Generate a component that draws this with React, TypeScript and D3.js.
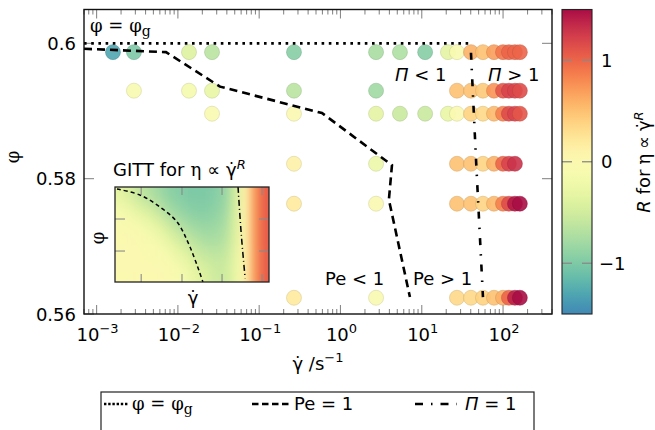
import React from 'react';
import * as d3 from 'd3';

// shear rates (1/s) of the measurement columns
const shearRates = [1.59e-3, 2.88e-3, 0.0137, 0.0263, 0.268, 2.74, 5.39, 11.0, 21.0, 27.1, 40.3, 56.6, 77.3, 99.8, 118, 140, 161];
// volume fractions of the measurement rows
const volumeFractions = [0.5987, 0.593, 0.5896, 0.5822, 0.5763, 0.5624];

// flow exponent R per row (null = no point)
const rPhi5987 = [-1.3, -1.0, -0.4, -0.65, -0.95, -0.75, -0.72, -0.95, -0.35, -0.05, 0.6, 0.5, 0.7, 0.9, 1.0, 1.0, 1.0];
const rPhi5930 = [null, -0.1, -0.15, -0.3, -0.65, -0.8, null, null, null, 0.5, 0.5, 0.45, 0.75, 1.1, 1.2, 1.2, 1.15];
const rPhi5896 = [null, null, null, -0.05, 0.0, -0.35, -0.55, -0.55, -0.3, 0.0, 0.4, 0.35, 0.55, 0.85, 1.15, 1.2, 1.1];
const rPhi5822 = [null, null, null, null, 0.12, -0.25, null, null, null, 0.5, 0.5, 0.38, 0.6, 1.0, 1.2, 1.3, null];
const rPhi5763 = [null, null, null, null, 0.2, 0.0, null, null, null, 0.5, 0.5, 0.38, 0.55, 0.85, 1.15, 1.45, 1.5];
const rPhi5624 = [null, null, null, null, 0.2, -0.05, null, null, null, 0.35, 0.35, 0.4, 0.5, 0.6, 1.0, 1.4, 1.5];
const exponentRows = [rPhi5987, rPhi5930, rPhi5896, rPhi5822, rPhi5763, rPhi5624];

// boundary lines [shear rate, phi]
const glassLine: [number, number][] = [[7e-4, 0.6], [39, 0.6]];
const pecletLine: [number, number][] = [[7e-4, 0.5992], [7.14e-3, 0.5987], [0.033, 0.5936], [0.592, 0.5897], [4.3, 0.582], [3.94, 0.5769], [7.15, 0.5625]];
const piLine: [number, number][] = [[40.3, 0.5986], [46.5, 0.5828], [56.6, 0.5625]];

// GITT inset: R on a 16 x 6 grid (top row first), plus its boundary curves in unit coords
const insetTop = [-0.35, -0.45, -0.6, -0.7, -0.8, -0.9, -0.95, -1.0, -1.0, -1.0, -0.95, -0.85, -0.5, 0.1, 0.75, 1.05];
const insetRow2 = [-0.12, -0.22, -0.35, -0.45, -0.6, -0.75, -0.85, -0.92, -0.95, -0.95, -0.9, -0.8, -0.45, 0.1, 0.75, 1.05];
const insetRow3 = [-0.02, -0.05, -0.1, -0.2, -0.32, -0.5, -0.65, -0.75, -0.82, -0.85, -0.82, -0.72, -0.42, 0.1, 0.75, 1.05];
const insetRow4 = [0, 0, -0.03, -0.08, -0.15, -0.27, -0.42, -0.55, -0.65, -0.72, -0.72, -0.65, -0.38, 0.1, 0.75, 1.05];
const insetRow5 = [0, 0, 0, -0.02, -0.05, -0.1, -0.22, -0.33, -0.48, -0.55, -0.6, -0.55, -0.32, 0.1, 0.75, 1.05];
const insetBottom = [0, 0, 0, 0, 0, -0.02, -0.08, -0.2, -0.32, -0.42, -0.52, -0.52, -0.3, 0.1, 0.75, 1.05];
const insetGrid = [insetTop, insetRow2, insetRow3, insetRow4, insetRow5, insetBottom];
const insetPeclet: [number, number][] = [[0.013, 0.979], [0.162, 0.916], [0.292, 0.789], [0.403, 0.632], [0.487, 0.368], [0.571, 0.0]];
const insetPi: [number, number][] = [[0.799, 1.0], [0.82, 0.5], [0.845, 0.04]];
const insetTicksX = [0.17, 0.435, 0.695, 0.955];
const insetTicksY = [0.326, 0.663];

const yTicks = [0.56, 0.58, 0.6];
const xDecades = [-3, -2, -1, 0, 1, 2];
const cbTicks = [-1, 0, 1];

const SANS = 'DejaVu Sans';
const SERIF = 'DejaVu Serif';
const GD = '\u03B3\u0307';

const tCol = d3.scaleLinear().domain([-1.5, 0, 1.5]).range([0.9, 0.5, 0.02]).clamp(true);
const colorOf = (r: number) => d3.interpolateSpectral(tCol(r));

export default function App() {
  const L = 84, R = 552, T = 9.5, B = 314;
  const x = d3.scaleLog().domain([7e-4, 4e2]).range([L, R]);
  const y = d3.scaleLinear().domain([0.56, 0.605]).range([B, T]);
  const cbY = d3.scaleLinear().domain([-1.5, 1.5]).range([B, T]);
  const cbL = 562, cbW = 30;

  const line = d3.line<[number, number]>().x(d => x(d[0])).y(d => y(d[1]));

  const minor: { v: number; major: boolean }[] = [];
  for (let k = -4; k <= 2; k++) {
    for (let m = 1; m <= 9; m++) {
      const v = m * Math.pow(10, k);
      if (v >= 7e-4 && v <= 4e2) minor.push({ v, major: m === 1 });
    }
  }

  const pts: { gx: number; phi: number; r: number }[] = [];
  exponentRows.forEach((row, i) => {
    row.forEach((r, j) => {
      if (r !== null) pts.push({ gx: shearRates[j], phi: volumeFractions[i], r: r as number });
    });
  });

  // inset
  const iL = 115, iR = 269, iT = 187, iB = 282;
  const ix = d3.scaleLinear().domain([0, 1]).range([iL, iR]);
  const iy = d3.scaleLinear().domain([0, 1]).range([iB, iT]);
  const nc = insetTop.length, nr = insetGrid.length;
  const colBand = d3.scaleBand<number>().domain(d3.range(nc)).range([iL, iR]);
  const rowBand = d3.scaleBand<number>().domain(d3.range(nr)).range([iT, iB]);
  const iline = d3.line<[number, number]>().x(d => ix(d[0])).y(d => iy(d[1])).curve(d3.curveCatmullRom);

  const gradStops = d3.range(0, 31).map(i => -1.5 + i * 0.1);
  const tickGray = '#8a8a8a';

  return (
    <svg width={655} height={430} style={{ position: 'absolute', left: 0, top: 0 }} fontFamily={SANS} fontSize={18}>
      <defs>
        <linearGradient id="cb" x1="0" y1="1" x2="0" y2="0">
          {gradStops.map((r, i) => (
            <stop key={i} offset={(i / 30).toFixed(4)} stopColor={colorOf(r)} />
          ))}
        </linearGradient>
        <clipPath id="insetClip">
          <rect x={iL} y={iT} width={iR - iL} height={iB - iT} />
        </clipPath>
        <filter id="smooth" filterUnits="userSpaceOnUse" x={iL - 40} y={iT - 40} width={iR - iL + 80} height={iB - iT + 80}>
          <feGaussianBlur stdDeviation="4 8" />
        </filter>
      </defs>

      {/* axis ticks */}
      {minor.map((t, i) => {
        const h = t.major ? 9 : 5;
        return (
          <g key={i} stroke={tickGray} strokeWidth={1.1}>
            <line x1={x(t.v)} x2={x(t.v)} y1={B} y2={B - h} />
            <line x1={x(t.v)} x2={x(t.v)} y1={T} y2={T + h} />
          </g>
        );
      })}
      {yTicks.map(v => (
        <g key={v} stroke={tickGray} strokeWidth={1.1}>
          <line x1={L} x2={L + 10} y1={y(v)} y2={y(v)} />
          <line x1={R} x2={R - 10} y1={y(v)} y2={y(v)} />
        </g>
      ))}

      {/* points */}
      {pts.map((p, i) => {
        const c = colorOf(p.r);
        return (
          <circle key={i} cx={x(p.gx)} cy={y(p.phi)} r={7.5} fill={c} fillOpacity={0.9}
            stroke={d3.color(c)!.darker(0.6).formatHex()} strokeOpacity={0.55} strokeWidth={0.8} />
        );
      })}

      {/* boundary lines */}
      <path d={line(glassLine)!} fill="none" stroke="#000" strokeWidth={2.6} strokeDasharray="2.6 4.6" />
      <path d={line(pecletLine)!} fill="none" stroke="#000" strokeWidth={2.6} strokeDasharray="8 5" />
      <path d={line(piLine)!} fill="none" stroke="#000" strokeWidth={2.6} strokeDasharray="7 9 1.5 9" />

      {/* inset */}
      <g clipPath="url(#insetClip)">
        <g filter="url(#smooth)">
          {insetGrid.map((row, ri) =>
            row.map((r, ci) => {
              const x0 = colBand(ci)! - (ci === 0 ? 30 : 0);
              const x1 = colBand(ci)! + colBand.bandwidth() + (ci === nc - 1 ? 30 : 0);
              const y0 = rowBand(ri)! - (ri === 0 ? 30 : 0);
              const y1 = rowBand(ri)! + rowBand.bandwidth() + (ri === nr - 1 ? 30 : 0);
              return <rect key={ri + '-' + ci} x={x0} y={y0} width={x1 - x0 + 0.5} height={y1 - y0 + 0.5} fill={colorOf(r)} />;
            })
          )}
        </g>
        <path d={iline(insetPeclet)!} fill="none" stroke="#000" strokeWidth={1.5} strokeDasharray="4 3" />
        <path d={iline(insetPi)!} fill="none" stroke="#000" strokeWidth={1.5} strokeDasharray="6 3 1 3" />
        {insetTicksX.map(u => (
          <g key={u} stroke={tickGray} strokeWidth={1.1}>
            <line x1={ix(u)} x2={ix(u)} y1={iB} y2={iB - 8} />
            <line x1={ix(u)} x2={ix(u)} y1={iT} y2={iT + 8} />
          </g>
        ))}
        {insetTicksY.map(v => (
          <g key={v} stroke={tickGray} strokeWidth={1.1}>
            <line x1={iL} x2={iL + 10} y1={iy(v)} y2={iy(v)} />
            <line x1={iR} x2={iR - 10} y1={iy(v)} y2={iy(v)} />
          </g>
        ))}
      </g>
      <rect x={iL} y={iT} width={iR - iL} height={iB - iT} fill="none" stroke="#222" strokeWidth={1.3} />
      <text x={113} y={176}>
        GITT for<tspan dx={6} fontFamily={SERIF}>η</tspan>
        <tspan dx={6}>∝</tspan>
        <tspan dx={6}>{GD}</tspan>
        <tspan dy={-7} fontSize={13} fontStyle="italic">R</tspan>
      </text>
      <text transform="translate(104,238) rotate(-90)" textAnchor="middle" fontFamily={SERIF}>φ</text>
      <text x={193} y={304} textAnchor="middle">{GD}</text>

      {/* frame */}
      <rect x={L} y={T} width={R - L} height={B - T} fill="none" stroke="#111" strokeWidth={1.4} />

      {/* annotations */}
      <text x={90} y={32} fontFamily={SERIF}>φ = φ<tspan dy={4} fontSize={14}>g</tspan></text>
      <text x={395} y={81}><tspan fontStyle="italic">Π</tspan> &lt; 1</text>
      <text x={488} y={81}><tspan fontStyle="italic">Π</tspan> &gt; 1</text>
      <text x={325} y={285}>Pe &lt; 1</text>
      <text x={413} y={285}>Pe &gt; 1</text>

      {/* tick labels */}
      {yTicks.map(v => (
        <text key={v} x={76} y={y(v) + 6.5} textAnchor="end">{String(v)}</text>
      ))}
      {xDecades.map(k => (
        <text key={k} x={x(Math.pow(10, k)) + 1} y={341} textAnchor="middle">
          10<tspan dy={-8} fontSize={13}>{k < 0 ? '\u2212' + Math.abs(k) : String(k)}</tspan>
        </text>
      ))}

      {/* axis labels */}
      <text transform="translate(19,157) rotate(-90)" textAnchor="middle" fontFamily={SERIF}>φ</text>
      <text x={318} y={370} textAnchor="middle">{GD} /s<tspan dy={-8} fontSize={13}>{'\u2212'}1</tspan></text>

      {/* colorbar */}
      <rect x={cbL} y={T} width={cbW} height={B - T} fill="url(#cb)" />
      {cbTicks.map(v => (
        <g key={v} stroke={tickGray} strokeWidth={1.3}>
          <line x1={cbL} x2={cbL + 10} y1={cbY(v)} y2={cbY(v)} />
          <line x1={cbL + cbW} x2={cbL + cbW - 10} y1={cbY(v)} y2={cbY(v)} />
        </g>
      ))}
      <rect x={cbL} y={T} width={cbW} height={B - T} fill="none" stroke="#222" strokeWidth={1.1} />
      {cbTicks.map(v => (
        <text key={v} x={v < 0 ? 599 : 601} y={cbY(v) + 6.5}>{v < 0 ? '\u2212' + Math.abs(v) : String(v)}</text>
      ))}
      <text transform="translate(650,162) rotate(-90)" textAnchor="middle">
        <tspan fontStyle="italic">R</tspan> for<tspan dx={5} fontFamily={SERIF}>η</tspan>
        <tspan dx={5}>∝</tspan>
        <tspan dx={5}>{GD}</tspan>
        <tspan dy={-7} fontSize={13} fontStyle="italic">R</tspan>
      </text>

      {/* legend */}
      <rect x={101} y={392} width={433} height={60} fill="#fff" stroke="#222" strokeWidth={1.2} />
      <line x1={104} x2={128} y1={404} y2={404} stroke="#000" strokeWidth={2.6} strokeDasharray="2.4 1.8" />
      <text x={132} y={410} fontFamily={SERIF}>φ = φ<tspan dy={4} fontSize={14}>g</tspan></text>
      <line x1={252} x2={289} y1={404} y2={404} stroke="#000" strokeWidth={2.6} strokeDasharray="6.5 3.5" />
      <text x={294} y={410}>Pe = 1</text>
      <line x1={415} x2={457} y1={404} y2={404} stroke="#000" strokeWidth={2.6} strokeDasharray="8 8 1.5 8" />
      <text x={465} y={410}><tspan fontStyle="italic">Π</tspan> = 1</text>
    </svg>
  );
}
